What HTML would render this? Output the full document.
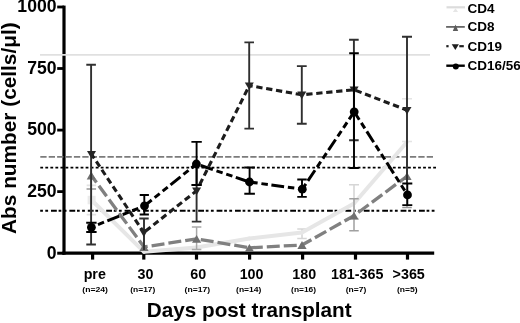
<!DOCTYPE html>
<html><head><meta charset="utf-8"><title>Abs number chart</title>
<style>
html,body{margin:0;padding:0;background:#fff;}
svg{display:block;}
text{font-family:"Liberation Sans",Arial,Helvetica,sans-serif;font-weight:bold;fill:#000;}
</style></head><body>
<svg width="520" height="323" viewBox="0 0 520 323">
<rect width="520" height="323" fill="#fff"/>
<g stroke="#000" fill="none">
<line x1="64" y1="5.6" x2="64" y2="254.7" stroke-width="3.2"/>
<line x1="62.4" y1="253.2" x2="434.2" y2="253.2" stroke-width="3.3"/>
<line x1="57.2" y1="7.0" x2="64" y2="7.0" stroke-width="2.8"/>
<line x1="57.2" y1="68.5" x2="64" y2="68.5" stroke-width="2.8"/>
<line x1="57.2" y1="130.1" x2="64" y2="130.1" stroke-width="2.8"/>
<line x1="57.2" y1="191.6" x2="64" y2="191.6" stroke-width="2.8"/>
<line x1="57.2" y1="253.2" x2="64" y2="253.2" stroke-width="3"/>
<line x1="92.6" y1="253" x2="92.6" y2="259.6" stroke-width="3.2"/>
<line x1="143.8" y1="253" x2="143.8" y2="259.6" stroke-width="3.2"/>
<line x1="196.5" y1="253" x2="196.5" y2="259.6" stroke-width="3.2"/>
<line x1="249.6" y1="253" x2="249.6" y2="259.6" stroke-width="3.2"/>
<line x1="302.6" y1="253" x2="302.6" y2="259.6" stroke-width="3.2"/>
<line x1="355.5" y1="253" x2="355.5" y2="259.6" stroke-width="3.2"/>
<line x1="407.5" y1="253" x2="407.5" y2="259.6" stroke-width="3.2"/>
</g>
<line x1="40" y1="54.9" x2="430" y2="54.9" stroke="#e0e0e0" stroke-width="1.9"/>
<line x1="40.3" y1="156.85" x2="433.5" y2="156.85" stroke="#7c7c7c" stroke-width="1.9" stroke-dasharray="6.3 2.1"/>
<line x1="40.3" y1="167.6" x2="436.3" y2="167.6" stroke="#000" stroke-width="1.9" stroke-dasharray="2.8 2.237"/>
<line x1="40.2" y1="210.8" x2="436.3" y2="210.8" stroke="#000" stroke-width="1.9" stroke-dasharray="2.7 2.4 2.8 2.9 5.8 1.8"/>
<path d="M91.4 185.4V214.6M86.65 185.4h9.5M86.65 214.6h9.5" stroke="#e2e2e2" stroke-width="1.6" fill="none"/>
<path d="M302.0 229.0V238.5M297.25 229.0h9.5M297.25 238.5h9.5" stroke="#d6d6d6" stroke-width="1.6" fill="none"/>
<path d="M354.0 184.8V219.0M349.00 184.8h10M349.00 219.0h10" stroke="#d6d6d6" stroke-width="1.6" fill="none"/>
<path d="M407.0 98.7V141.5M402.00 98.7h10M402.00 141.5h10" stroke="#e4e4e4" stroke-width="1.6" fill="none"/>
<line x1="91.5" y1="200.0" x2="144.0" y2="251.8" stroke="#e6e6e6" stroke-width="3.9" stroke-linecap="round"/>
<line x1="144.0" y1="251.8" x2="196.6" y2="247.5" stroke="#e6e6e6" stroke-width="3.9" stroke-linecap="round"/>
<line x1="196.6" y1="247.5" x2="249.4" y2="238.5" stroke="#e6e6e6" stroke-width="3.9" stroke-linecap="round"/>
<line x1="249.4" y1="238.5" x2="302.0" y2="232.5" stroke="#e6e6e6" stroke-width="3.9" stroke-linecap="round"/>
<line x1="302.0" y1="232.5" x2="354.0" y2="203.5" stroke="#e6e6e6" stroke-width="3.9" stroke-linecap="round"/>
<line x1="354.0" y1="203.5" x2="407.0" y2="142.0" stroke="#e6e6e6" stroke-width="3.9" stroke-linecap="round"/>
<rect x="87.6" y="195.8" width="8" height="8.5" fill="#eaeaea"/>
<path d="M91.3 163.0V189.1M86.55 189.1h9.5" stroke="#969696" stroke-width="1.5" fill="none"/>
<path d="M196.6 227.0V249.4M191.85 227.0h9.5M191.85 249.4h9.5" stroke="#a8a8a8" stroke-width="1.5" fill="none"/>
<path d="M354.0 198.7V230.7M349.25 198.7h9.5M349.25 230.7h9.5" stroke="#a0a0a0" stroke-width="1.5" fill="none"/>
<path d="M407.0 145.6V207.4M402.25 207.4h9.5" stroke="#969696" stroke-width="1.5" fill="none"/>
<line x1="91.3" y1="175.5" x2="144.0" y2="247.0" stroke="#808080" stroke-width="3.3" stroke-dasharray="13 4" stroke-dashoffset="4.2"/>
<line x1="144.0" y1="247.0" x2="196.6" y2="238.8" stroke="#808080" stroke-width="3.3" stroke-dasharray="13 4" stroke-dashoffset="9.3"/>
<line x1="196.6" y1="238.8" x2="249.4" y2="247.8" stroke="#808080" stroke-width="3.3" stroke-dasharray="13 4" stroke-dashoffset="12.8"/>
<line x1="249.4" y1="247.8" x2="302.0" y2="245.0" stroke="#808080" stroke-width="3.3" stroke-dasharray="13 4" stroke-dashoffset="16.6"/>
<line x1="302.0" y1="245.0" x2="354.0" y2="215.7" stroke="#808080" stroke-width="3.3" stroke-dasharray="13 4" stroke-dashoffset="2.2"/>
<line x1="354.0" y1="215.7" x2="407.0" y2="176.2" stroke="#808080" stroke-width="3.3" stroke-dasharray="13 4" stroke-dashoffset="11.7"/>
<path d="M91.30 171.60L95.90 179.40H86.70Z" fill="#707070"/>
<path d="M144.00 243.10L148.60 250.90H139.40Z" fill="#707070"/>
<path d="M196.60 234.90L201.20 242.70H192.00Z" fill="#707070"/>
<path d="M249.40 243.90L254.00 251.70H244.80Z" fill="#707070"/>
<path d="M302.00 241.10L306.60 248.90H297.40Z" fill="#707070"/>
<path d="M354.00 211.80L358.60 219.60H349.40Z" fill="#707070"/>
<path d="M407.00 172.30L411.60 180.10H402.40Z" fill="#707070"/>
<path d="M91.1 64.8V244.5M86.30 64.8h9.6M86.30 244.5h9.6" stroke="#303030" stroke-width="1.9" fill="none"/>
<path d="M144.0 218.5V250.0M139.30 218.5h9.4" stroke="#303030" stroke-width="1.9" fill="none"/>
<path d="M196.6 160.4V221.6M191.80 221.6h9.6" stroke="#303030" stroke-width="1.9" fill="none"/>
<path d="M249.2 42.4V128.6M244.40 42.4h9.6M244.40 128.6h9.6" stroke="#303030" stroke-width="1.9" fill="none"/>
<path d="M301.8 66.1V123.8M296.90 66.1h9.8M296.90 123.8h9.8" stroke="#303030" stroke-width="1.9" fill="none"/>
<path d="M353.9 39.7V140.2M349.10 39.7h9.6M349.10 140.2h9.6" stroke="#303030" stroke-width="1.9" fill="none"/>
<path d="M407.0 36.8V183.0M402.00 36.8h10" stroke="#303030" stroke-width="1.9" fill="none"/>
<line x1="91.5" y1="154.3" x2="143.8" y2="232.5" stroke="#1c1c1c" stroke-width="3.1" stroke-dasharray="6.3 3.7" stroke-dashoffset="1.4"/>
<line x1="143.8" y1="232.5" x2="196.6" y2="190.8" stroke="#1c1c1c" stroke-width="3.1" stroke-dasharray="6.3 3.7" stroke-dashoffset="7.7"/>
<line x1="196.6" y1="190.8" x2="249.3" y2="85.6" stroke="#1c1c1c" stroke-width="3.1" stroke-dasharray="6.3 3.7" stroke-dashoffset="3"/>
<line x1="249.3" y1="85.6" x2="301.8" y2="94.8" stroke="#1c1c1c" stroke-width="3.1" stroke-dasharray="6.3 3.7" stroke-dashoffset="2.9"/>
<line x1="301.8" y1="94.8" x2="354.1" y2="89.8" stroke="#1c1c1c" stroke-width="3.1" stroke-dasharray="6.3 3.7" stroke-dashoffset="5.5"/>
<line x1="354.1" y1="89.8" x2="407.0" y2="110.2" stroke="#1c1c1c" stroke-width="3.1" stroke-dasharray="6.3 3.7" stroke-dashoffset="8.3"/>
<path d="M91.50 158.70L96.00 151.10H87.00Z" fill="#262626"/>
<path d="M143.80 236.90L148.30 229.30H139.30Z" fill="#262626"/>
<path d="M196.60 195.20L201.10 187.60H192.10Z" fill="#262626"/>
<path d="M249.30 90.00L253.80 82.40H244.80Z" fill="#262626"/>
<path d="M301.80 99.20L306.30 91.60H297.30Z" fill="#262626"/>
<path d="M354.10 94.20L358.60 86.60H349.60Z" fill="#262626"/>
<path d="M407.00 114.60L411.50 107.00H402.50Z" fill="#262626"/>
<path d="M91.4 222.7V232.0M86.20 222.7h10.4M86.20 232.0h10.4" stroke="#000" stroke-width="1.9" fill="none"/>
<path d="M144.3 195.0V214.5M139.70 195.0h9.2M139.70 214.5h9.2" stroke="#000" stroke-width="1.9" fill="none"/>
<path d="M196.6 141.9V185.0M191.40 141.9h10.4M191.40 185.0h10.4" stroke="#000" stroke-width="1.9" fill="none"/>
<path d="M249.6 167.5V193.8M244.30 167.5h10.6M244.30 193.8h10.6" stroke="#000" stroke-width="1.9" fill="none"/>
<path d="M302.0 179.5V196.9M297.25 179.5h9.5M297.25 196.9h9.5" stroke="#000" stroke-width="1.9" fill="none"/>
<path d="M354.0 53.2V168.0M349.20 53.2h9.6M349.20 168.0h9.6" stroke="#000" stroke-width="1.9" fill="none"/>
<path d="M407.3 183.5V205.1M402.30 183.5h10M402.30 205.1h10" stroke="#000" stroke-width="1.9" fill="none"/>
<line x1="91.4" y1="227.3" x2="144.5" y2="205.8" stroke="#000" stroke-width="3.0" stroke-dasharray="12.8 3.8 6.5 3.8 6.5 3.6" stroke-dashoffset="19.8"/>
<line x1="144.5" y1="205.8" x2="196.4" y2="164.0" stroke="#000" stroke-width="3.0" stroke-dasharray="12.8 3.8 6.5 3.8 6.5 3.6" stroke-dashoffset="3.6"/>
<line x1="196.4" y1="164.0" x2="249.5" y2="182.0" stroke="#000" stroke-width="3.0" stroke-dasharray="12.8 3.8 6.5 3.8 6.5 3.6" stroke-dashoffset="32.4"/>
<line x1="249.5" y1="182.0" x2="302.3" y2="189.2" stroke="#000" stroke-width="3.0" stroke-dasharray="12.8 3.8 6.5 3.8 6.5 3.6" stroke-dashoffset="14.9"/>
<line x1="302.3" y1="189.2" x2="354.2" y2="111.8" stroke="#000" stroke-width="3.0" stroke-dasharray="12.8 3.8 6.5 3.8 6.5 3.6" stroke-dashoffset="27"/>
<line x1="354.2" y1="111.8" x2="407.5" y2="194.9" stroke="#000" stroke-width="3.0" stroke-dasharray="12.8 3.8 6.5 3.8 6.5 3.6" stroke-dashoffset="13.7"/>
<circle cx="91.4" cy="227.3" r="4.4" fill="#000"/>
<circle cx="144.5" cy="205.8" r="4.4" fill="#000"/>
<circle cx="196.4" cy="164.0" r="4.4" fill="#000"/>
<circle cx="249.5" cy="182.0" r="4.4" fill="#000"/>
<circle cx="302.3" cy="189.2" r="4.4" fill="#000"/>
<circle cx="354.2" cy="111.8" r="4.4" fill="#000"/>
<circle cx="407.5" cy="194.9" r="4.4" fill="#000"/>
<!-- y tick labels -->
<g font-size="17.6" text-anchor="end">
  <text x="56.5" y="12.3">1000</text>
  <text x="56.5" y="73.8">750</text>
  <text x="56.5" y="135.4">500</text>
  <text x="56.5" y="196.9">250</text>
  <text x="56.5" y="258.5">0</text>
</g>
<g font-size="14.3" text-anchor="middle">
  <text x="94.75" y="279.3">pre</text>
  <text x="145.45" y="279.3">30</text>
  <text x="198.2" y="279.3">60</text>
  <text x="251.6" y="279.3">100</text>
  <text x="304.3" y="279.3">180</text>
  <text x="357.2" y="279.3">181-365</text>
  <text x="408.7" y="279.3">&gt;365</text>
</g>
<g font-size="6.6" text-anchor="middle">
  <text x="95.15" y="291.7" textLength="25.6" lengthAdjust="spacingAndGlyphs">(n=24)</text>
  <text x="142.8" y="291.7" textLength="25.1" lengthAdjust="spacingAndGlyphs">(n=17)</text>
  <text x="197.4" y="291.7" textLength="25.6" lengthAdjust="spacingAndGlyphs">(n=17)</text>
  <text x="248.7" y="291.7" textLength="25.3" lengthAdjust="spacingAndGlyphs">(n=14)</text>
  <text x="303.6" y="291.7" textLength="25.0" lengthAdjust="spacingAndGlyphs">(n=16)</text>
  <text x="356" y="291.7" textLength="20.6" lengthAdjust="spacingAndGlyphs">(n=7)</text>
  <text x="407.2" y="291.7" textLength="20.6" lengthAdjust="spacingAndGlyphs">(n=5)</text>
</g>
<text x="146.7" y="317.3" font-size="20.2" textLength="205" lengthAdjust="spacingAndGlyphs">Days post transplant</text>
<text transform="translate(15.75 233.9) rotate(-90)" font-size="20.6" textLength="211.5" lengthAdjust="spacingAndGlyphs">Abs number (cells/μl)</text>

<line x1="446.5" y1="7.3" x2="465" y2="7.3" stroke="#dcdcdc" stroke-width="2.2"/>
<path d="M455.5 8.3l2.6 3.6h-5.2z" fill="#e6e6e6"/>
<line x1="446.1" y1="26.9" x2="464.8" y2="26.9" stroke="#666" stroke-width="1.8"/>
<path d="M455.5 24.6l2.7 6.4h-5.4z" fill="#5c5c5c"/>
<g stroke="#1e1e1e" stroke-width="2.2"><line x1="446.3" y1="46.2" x2="448.6" y2="46.2"/><line x1="459.3" y1="46.2" x2="463.8" y2="46.2"/></g>
<path d="M455.3 50.1l-3.6-5.9h7.2z" fill="#1e1e1e"/>
<line x1="446.3" y1="65.7" x2="464.8" y2="65.7" stroke="#000" stroke-width="2.4"/>
<circle cx="455.8" cy="66.6" r="3.0" fill="#000"/>
<g font-size="13.5">
  <text x="467.4" y="12.5">CD4</text>
  <text x="467.4" y="31.4">CD8</text>
  <text x="467.4" y="50.8">CD19</text>
  <text x="467.4" y="70.2">CD16/56</text>
</g>
</svg>
</body></html>
